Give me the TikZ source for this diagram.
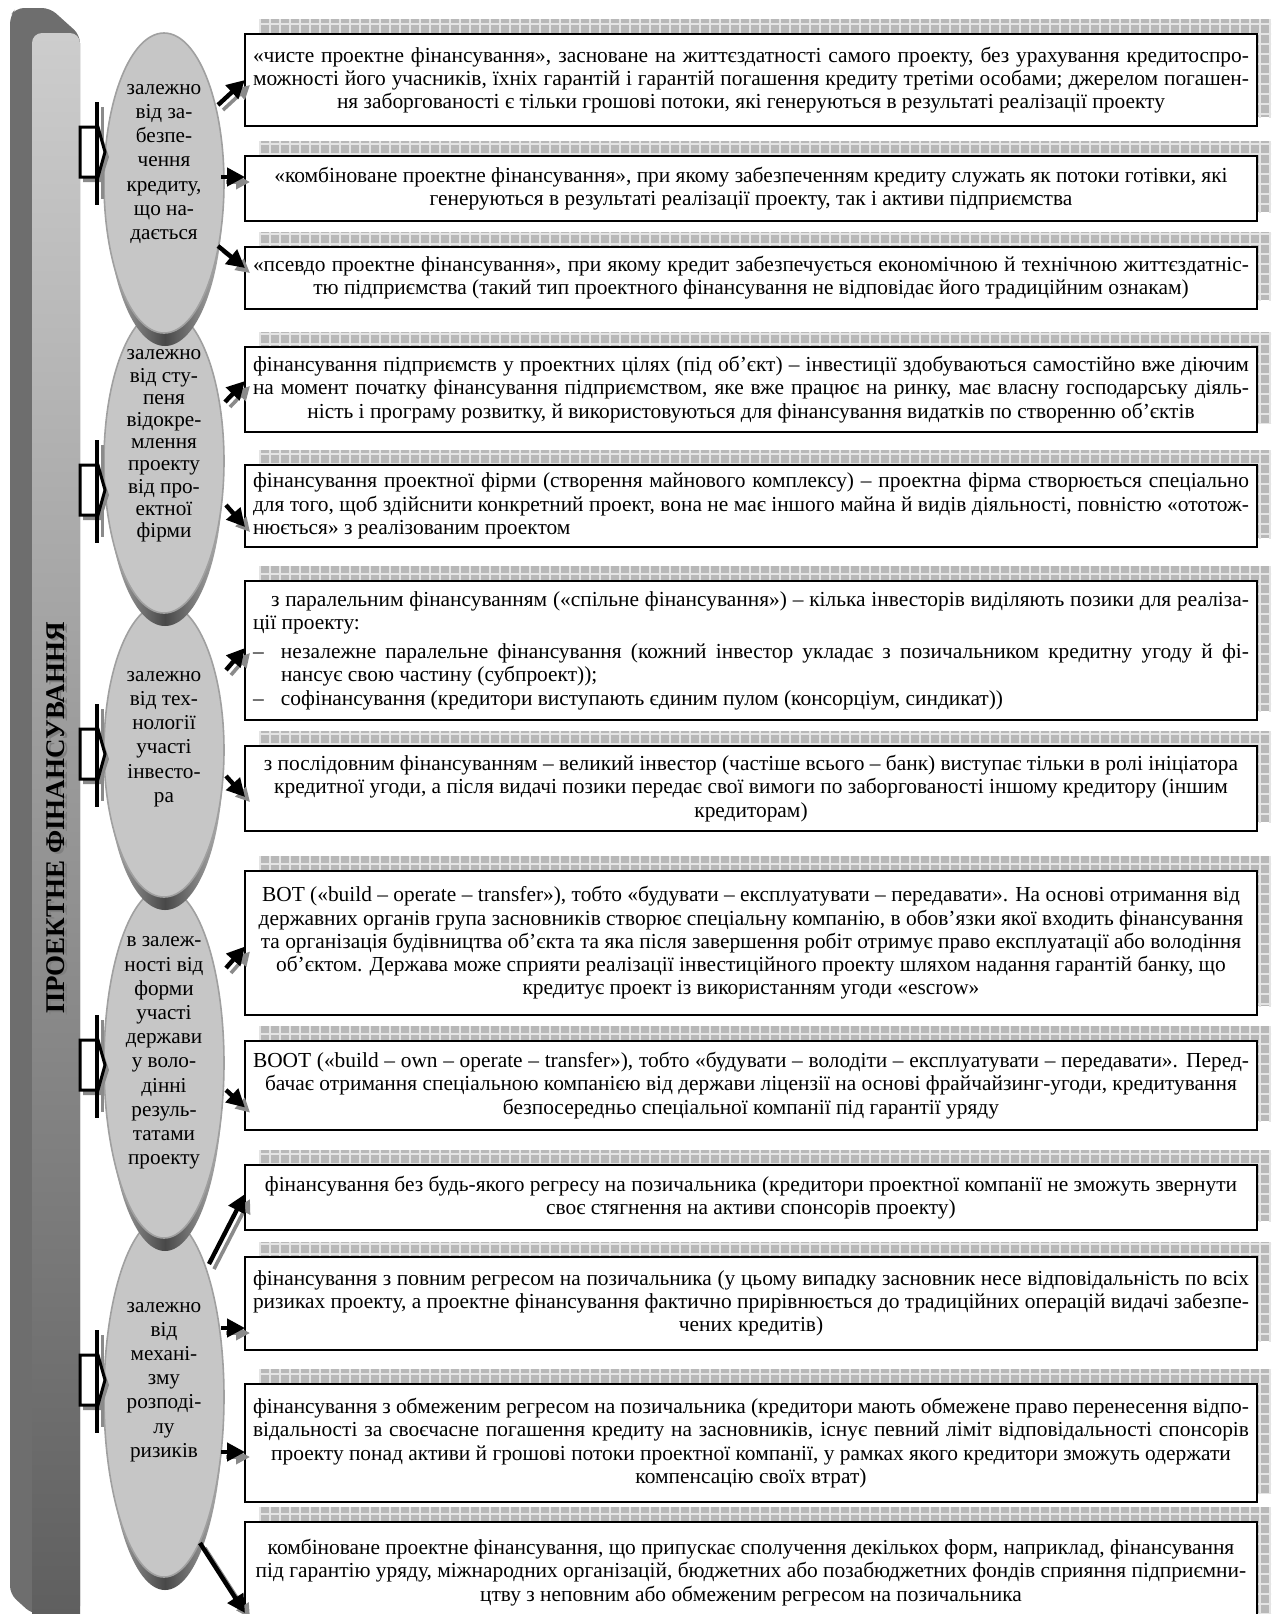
\documentclass[tikz,border=0pt]{standalone}
\usepackage{fontspec}
\setmainfont{Liberation Serif}
\usetikzlibrary{arrows.meta,patterns,shapes.geometric}

\definecolor{barlight}{HTML}{CDCDCD}
\definecolor{bardark}{HTML}{5E5E5E}
\definecolor{barside}{HTML}{6E6E6E}
\definecolor{ovalfill}{HTML}{C6C6C6}
\definecolor{ovalline}{HTML}{A0A0A0}
\definecolor{cresdark}{HTML}{484848}
\definecolor{creslight}{HTML}{B0B0B0}
\definecolor{shadowfill}{HTML}{B8B8B8}
\definecolor{gridline}{HTML}{E4E4E4}
\definecolor{arrowgray}{HTML}{8A8A8A}

\pgfdeclarepatternformonly{boxgrid}{\pgfqpoint{-1pt}{-1pt}}{\pgfqpoint{6pt}{6pt}}{\pgfqpoint{5pt}{5pt}}{%
  \pgfsetlinewidth{0.6pt}%
  \pgfpathmoveto{\pgfqpoint{0pt}{0pt}}\pgfpathlineto{\pgfqpoint{0pt}{5.1pt}}%
  \pgfpathmoveto{\pgfqpoint{0pt}{0pt}}\pgfpathlineto{\pgfqpoint{5.1pt}{0pt}}%
  \pgfusepath{stroke}}

\newcommand\JL[1]{\hbox to 498pt{#1}}
\newcommand\CL[1]{\hbox to 498pt{\hss#1\hss}}
\newcommand\LL[1]{\hbox to 498pt{#1\hss}}

\tikzset{
  every node/.style={inner sep=0pt, outer sep=0pt},
  boxnode/.style={draw=black, line width=1.4pt, fill=white, minimum width=506pt,
    font=\fontsize{10.7}{11.6}\selectfont},
  ovalnode/.style={ellipse, draw=ovalline, line width=0.8pt, fill=ovalfill, minimum width=60pt},
  ovaltext/.style={align=center, font=\fontsize{10.6}{12.1}\selectfont},
  blackarrow/.style={line width=2.2pt, -{Triangle[length=9pt,width=9pt]}},
  grayarrow/.style={draw=arrowgray, line width=1.8pt, -{Triangle[length=7pt,width=7pt]}},
}

\newcommand\infobox[4]{%
  \fill[shadowfill] (259,{15-#2}) rectangle (1271,{9-#3});
  \fill[pattern=boxgrid, pattern color=gridline] (259,{15-#2}) rectangle (1271,{9-#3});
  \node[boxnode, minimum height={(#3-#2)*0.5pt}] (#1) at (751,{-(#2+#3)/2}) {\vbox{#4}};
}

\newcommand\ovalshape[3]{%
  \shade[left color=creslight, right color=creslight, middle color=cresdark]
    (165,{-#2-13}) ellipse [x radius=58, y radius=#3];
  \node[ovalnode, minimum height={2*#3*0.5pt}] (#1) at (164,-#2) {};
}

\newcommand\bracketat[1]{%
  \fill[arrowgray] (83,{-(#1-25)-5}) -- (101,{-(#1-25)-5}) -- (109,{-#1-5}) -- (101,{-(#1+25)-5}) -- (83,{-(#1+25)-5}) -- cycle;
  \draw[arrowgray, line width=1.4pt] (102.5,{-(#1-45)}) -- (102.5,{-(#1+47)});
  \filldraw[fill=white, draw=black, line width=1.5pt, line join=miter]
    (80,{-(#1-25)}) -- (98,{-(#1-25)}) -- (105,{-#1}) -- (98,{-(#1+25)}) -- (80,{-(#1+25)}) -- cycle;
  \draw[black, line width=2pt] (97,{-(#1-50)}) -- (97,{-(#1+53)});
}

\newcommand\arrowto[3]{%
  \draw[grayarrow, transform canvas={xshift=2.5pt, yshift=-2.5pt}] (#1) -- ([yshift=#3]#2.west);
  \draw[blackarrow] (#1) -- ([yshift=#3]#2.west);
}

\begin{document}
\begin{tikzpicture}[x=0.5pt, y=0.5pt]
\useasboundingbox (0,0) rectangle (1276,-1614);
\fill[white] (0,0) rectangle (1276,-1614);

% vertical bar
\fill[barside, rounded corners=4pt] (10,-1594) -- (10,-16) -- (16,-8) -- (50,-8) -- (80,-35) -- (80,-1614) -- (32,-1614) -- cycle;
\shade[top color=barlight, bottom color=bardark, rounded corners=5pt] (32,-33) rectangle (80,-1630);
\node[rotate=90, text=gray, font=\fontsize{13.5}{15}\selectfont\bfseries] at (58.5,-819.5) {ПРОЕКТНЕ ФІНАНСУВАННЯ};
\node[rotate=90, font=\fontsize{13.5}{15}\selectfont\bfseries] (title) at (56,-818) {ПРОЕКТНЕ ФІНАНСУВАННЯ};

% ovals (bottom first)
\ovalshape{e5}{1397}{180}
\ovalshape{e4}{1063}{175}
\ovalshape{e3}{750}{147}
\ovalshape{e2}{461}{152}
\ovalshape{e1}{183}{150}

\node[ovaltext] (t1) at (164,-164) {залежно\\від за-\\безпе-\\чення\\кредиту,\\що на-\\дається};
\node[ovaltext, font=\fontsize{10.6}{11.1}\selectfont] (t2) at (164,-446) {залежно\\від сту-\\пеня\\відокре-\\млення\\проекту\\від про-\\ектної\\фірми};
\node[ovaltext] (t3) at (164,-739) {залежно\\від тех-\\нології\\участі\\інвесто-\\ра};
\node[ovaltext] (t4) at (164,-1053) {в залеж-\\ності від\\форми\\участі\\держави\\у воло-\\дінні\\резуль-\\татами\\проекту};
\node[ovaltext] (t5) at (164,-1382) {залежно\\від\\механі-\\зму\\розподі-\\лу\\ризиків};

% brackets
\bracketat{152}
\bracketat{490}
\bracketat{754}
\bracketat{1065}
\bracketat{1380}

% boxes
\infobox{b1}{34}{126}{%
\JL{«чисте проектне фінансування», засноване на життєздатності самого проекту, без урахування кредитоспро-}
\JL{можності його учасників, їхніх гарантій і гарантій погашення кредиту третіми особами; джерелом погашен-}
\CL{ня заборгованості є тільки грошові потоки, які генеруються в результаті реалізації проекту}}

\infobox{b2}{156}{221}{%
\CL{«комбіноване проектне фінансування», при якому забезпеченням кредиту служать як потоки готівки, які}
\CL{генеруються в результаті реалізації проекту, так і активи підприємства}}

\infobox{b3}{247}{309}{%
\JL{«псевдо проектне фінансування», при якому кредит забезпечується економічною й технічною життєздатніс-}
\CL{тю підприємства (такий тип проектного фінансування не відповідає його традиційним ознакам)}}

\infobox{b4}{347}{432}{%
\JL{фінансування підприємств у проектних цілях (під об'єкт) – інвестиції здобуваються самостійно вже діючим}
\JL{на момент початку фінансування підприємством, яке вже працює на ринку, має власну господарську діяль-}
\CL{ність і програму розвитку, й використовуються для фінансування видатків по створенню об'єктів}}

\infobox{b5}{465}{547}{%
\JL{фінансування проектної фірми (створення майнового комплексу) – проектна фірма створюється спеціально}
\JL{для того, щоб здійснити конкретний проект, вона не має іншого майна й видів діяльності, повністю «ототож-}
\LL{нюється» з реалізованим  проектом}}

\infobox{b6}{581}{720}{%
\JL{\hskip 9pt з паралельним фінансуванням («спільне фінансування») – кілька інвесторів виділяють позики для реаліза-}
\LL{ції проекту:}
\vskip 3pt
\JL{\hbox to 14pt{–\hss}незалежне паралельне фінансування (кожний інвестор  укладає з позичальником кредитну угоду й фі-}
\LL{\hskip 14pt нансує свою частину (субпроект));}
\LL{\hbox to 14pt{–\hss}софінансування (кредитори виступають єдиним пулом (консорціум, синдикат))}}

\infobox{b7}{746}{831}{%
\CL{з послідовним фінансуванням – великий інвестор (частіше всього – банк) виступає тільки в ролі ініціатора}
\CL{кредитної угоди, а після видачі позики передає свої вимоги по заборгованості іншому кредитору (іншим}
\CL{кредиторам)}}

\infobox{b8}{871}{1015}{%
\CL{ВОТ («build – operate – transfer»), тобто «будувати – експлуатувати – передавати». На основі отримання від}
\CL{державних органів група засновників створює спеціальну компанію, в обов’язки якої входить фінансування}
\CL{та організація будівництва об’єкта та яка після завершення робіт отримує право експлуатації або володіння}
\CL{об’єктом. Держава може сприяти реалізації інвестиційного проекту шляхом надання гарантій банку, що}
\CL{кредитує проект із використанням угоди «escrow»}}

\infobox{b9}{1041}{1130}{%
\JL{ВООТ («build – own – operate – transfer»), тобто «будувати – володіти – експлуатувати – передавати». Перед-}
\CL{бачає отримання спеціальною компанією від держави ліцензії на основі фрайчайзинг-угоди, кредитування}
\CL{безпосередньо спеціальної компанії під гарантії уряду}}

\infobox{b10}{1165}{1230}{%
\CL{фінансування без будь-якого регресу на позичальника (кредитори проектної компанії не зможуть звернути}
\CL{своє стягнення на активи спонсорів проекту)}}

\infobox{b11}{1257}{1350}{%
\JL{фінансування з повним регресом на позичальника (у цьому випадку засновник несе відповідальність по всіх}
\JL{ризиках проекту, а проектне фінансування фактично прирівнюється до традиційних операцій видачі забезпе-}
\CL{чених кредитів)}}

\infobox{b12}{1384}{1502}{%
\JL{фінансування з обмеженим регресом на позичальника (кредитори мають обмежене право перенесення відпо-}
\JL{відальності за своєчасне погашення кредиту на засновників, існує певний ліміт відповідальності спонсорів}
\CL{проекту понад активи й грошові потоки проектної компанії, у рамках якого кредитори зможуть одержати}
\CL{компенсацію своїх втрат)}}

\infobox{b13}{1522}{1623}{%
\CL{комбіноване проектне фінансування, що припускає сполучення декількох форм, наприклад, фінансування}
\CL{під гарантію уряду, міжнародних організацій, бюджетних або позабюджетних фондів сприяння підприємни-}
\CL{цтву з неповним або обмеженим регресом на позичальника}}

% arrow start points
\coordinate (s1) at (218,-105);
\coordinate (s2) at (221,-177);
\coordinate (s3) at (218,-246);
\coordinate (s4) at (225,-402);
\coordinate (s5) at (226,-505);
\coordinate (s6) at (226,-670);
\coordinate (s7) at (226,-776);
\coordinate (s8) at (226,-968);
\coordinate (s9) at (226,-1090);
\coordinate (s10) at (209,-1264);
\coordinate (s11) at (221,-1328);
\coordinate (s12) at (221,-1452);
\coordinate (s13) at (200,-1543);

\arrowto{s1}{b1}{0pt}
\arrowto{s2}{b2}{5.75pt}
\arrowto{s3}{b3}{5pt}
\arrowto{s4}{b4}{4.25pt}
\arrowto{s5}{b5}{-10.5pt}
\arrowto{s6}{b6}{1.25pt}
\arrowto{s7}{b7}{-4.25pt}
\arrowto{s8}{b8}{-1.75pt}
\arrowto{s9}{b9}{-11pt}
\arrowto{s10}{b10}{1.75pt}
\arrowto{s11}{b11}{-12.25pt}
\arrowto{s12}{b12}{-4.5pt}
\arrowto{s13}{b13}{-20.25pt}
\end{tikzpicture}
\end{document}
